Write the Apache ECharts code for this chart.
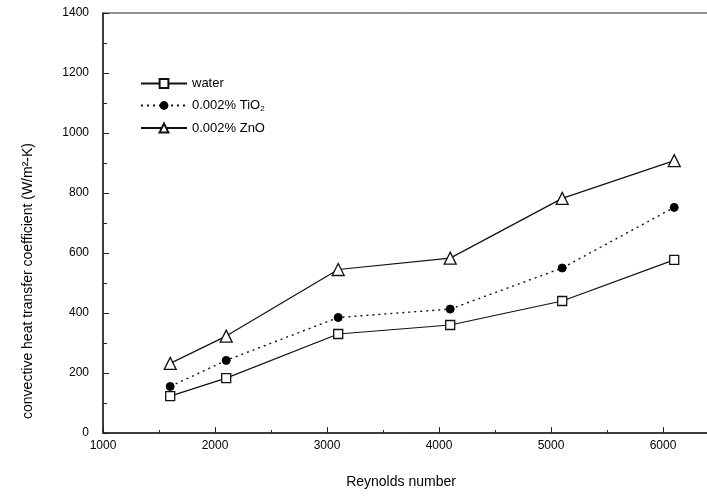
<!DOCTYPE html>
<html><head><meta charset="utf-8">
<script src="https://cdn.jsdelivr.net/npm/echarts@6/dist/echarts.min.js"></script>
<style>html,body{margin:0;padding:0;background:#fff}#c{width:707px;height:497px}</style>
</head><body><div id="c"></div>
<script>
var reynolds = [1600, 2100, 3100, 4100, 5100, 6100];
var water = [123, 183, 330, 360, 440, 577];
var tio2 = [155, 242, 385, 413, 550, 752];
var zno = [232, 323, 545, 583, 782, 908];
var seriesNames = ['water', '0.002% TiO2', '0.002% ZnO'];

function pairs(v){ return reynolds.map(function(x,i){ return [x, v[i]]; }); }
var font = 'Liberation Sans, Arial, sans-serif';
var chart = echarts.init(document.getElementById('c'));
chart.setOption({
  animation: false,
  backgroundColor: '#fff',
  grid: { left: 103, width: 616, top: 13, height: 420, show: true, borderColor: '#222', borderWidth: 1,
          outerBoundsMode: 'none', containLabel: false },
  legend: {
    orient: 'vertical', left: 135, top: 72, itemGap: 9, itemWidth: 46, itemHeight: 11,
    textStyle: { fontFamily: font, fontSize: 13, color: '#000',
      rich: { sub: { fontSize: 8, verticalAlign: 'bottom', padding: [6,0,0,0], fontFamily: font } } },
    formatter: function(n){ return n === seriesNames[1] ? '0.002% TiO{sub|2}' : n; },
    data: seriesNames
  },
  xAxis: {
    type: 'value', min: 1000, max: 6500, interval: 1000,
    name: 'Reynolds number', nameLocation: 'middle', nameGap: 42,
    nameTextStyle: { fontFamily: font, fontSize: 14, color: '#000', padding: [0, 20, 0, 0] },
    axisLine: { lineStyle: { color: '#222', width: 1.5 } },
    axisTick: { inside: true, length: 6, lineStyle: { color: '#222' } },
    minorTick: { show: true, splitNumber: 2, length: 3, lineStyle: { color: '#222' } },
    axisLabel: { fontFamily: font, fontSize: 12, color: '#000', margin: 7,
      formatter: function(v){ return v <= 6000 ? String(v) : ''; } },
    splitLine: { show: false }
  },
  yAxis: {
    type: 'value', min: 0, max: 1400, interval: 200,
    name: 'convective heat transfer coefficient (W/m\u00b2-K)', nameLocation: 'middle', nameGap: 68,
    nameTextStyle: { fontFamily: font, fontSize: 14, color: '#000', padding: [0, 116, 0, 0] },
    axisLine: { lineStyle: { color: '#222', width: 1.5 } },
    axisTick: { inside: true, length: 6, lineStyle: { color: '#222' } },
    minorTick: { show: true, splitNumber: 2, length: 4, lineStyle: { color: '#222' } },
    axisLabel: { fontFamily: font, fontSize: 12, color: '#000', margin: 14,
      formatter: function(v){ return String(v); } },
    splitLine: { show: false }
  },
  series: [
    { name: seriesNames[0], type: 'line', data: pairs(water), symbol: 'rect', symbolSize: 9,
      lineStyle: { color: '#111', width: 1.2 }, itemStyle: { color: '#fff', borderColor: '#111', borderWidth: 1.3 } },
    { name: seriesNames[1], type: 'line', data: pairs(tio2), symbol: 'circle', symbolSize: 8,
      lineStyle: { color: '#111', width: 1.4, type: [2, 4] }, itemStyle: { color: '#000', borderColor: '#000' } },
    { name: seriesNames[2], type: 'line', data: pairs(zno), symbol: 'triangle', symbolSize: 12,
      lineStyle: { color: '#111', width: 1.2 }, itemStyle: { color: '#fff', borderColor: '#111', borderWidth: 1.3 } }
  ]
});
</script></body></html>
